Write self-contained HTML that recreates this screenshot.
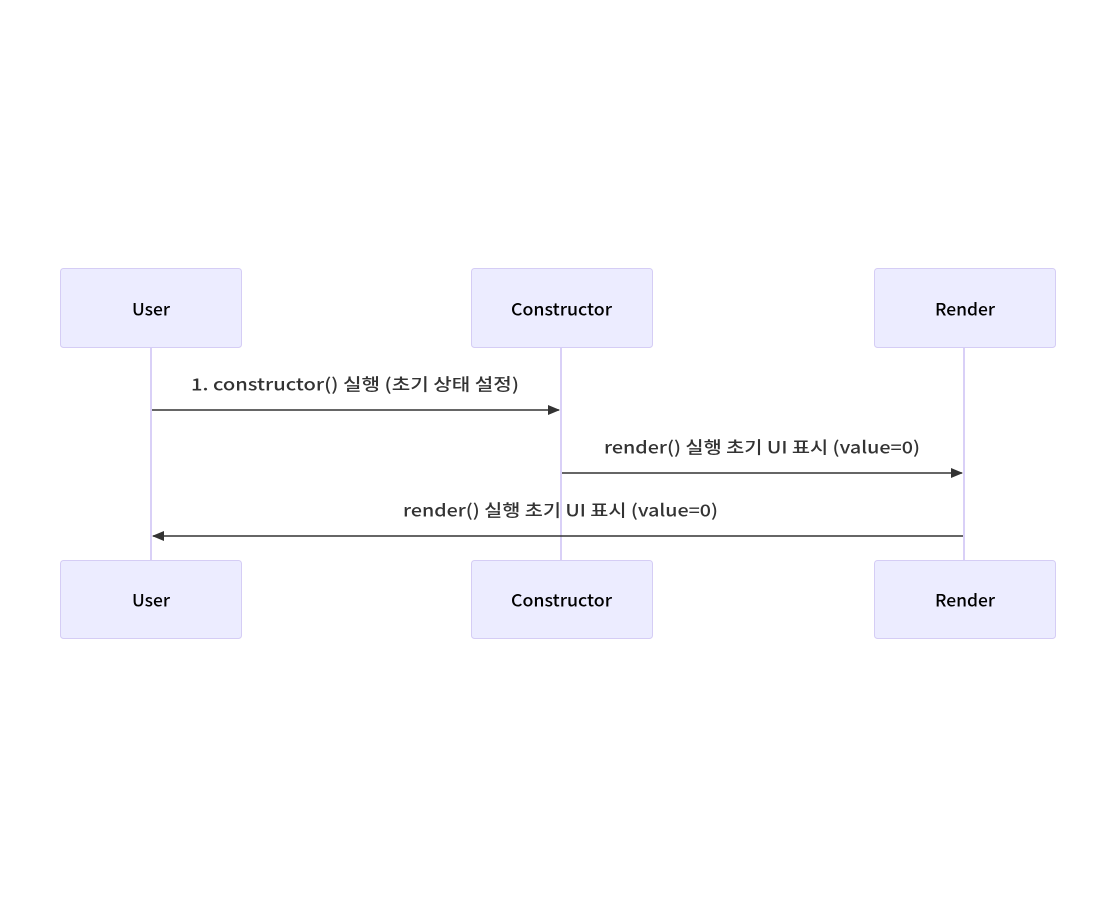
<!DOCTYPE html>
<html><head><meta charset="utf-8"><style>
html,body{margin:0;padding:0;background:#fff;}
svg{display:block;}
text{font-family:"Noto Sans CJK KR","NanumGothic",sans-serif;font-size:17px;font-weight:500;}
</style></head><body>
<svg width="1116" height="909" viewBox="0 0 1116 909" xmlns="http://www.w3.org/2000/svg">
<defs><marker id="ah" markerWidth="12" markerHeight="12" refX="11" refY="6" orient="auto" markerUnits="userSpaceOnUse"><path d="M0,1 L12,6 L0,11 Z" fill="#333"/></marker></defs>
<g stroke="#d9d0f7" stroke-width="2">
<line x1="151" y1="347" x2="151" y2="560"/>
<line x1="561" y1="347" x2="561" y2="560"/>
<line x1="964" y1="347" x2="964" y2="560"/>
</g>
<g fill="#ececff" stroke="#d5cdf5" stroke-width="1">
<rect x="60.5" y="268.5" width="181" height="79" rx="3"/>
<rect x="471.5" y="268.5" width="181" height="79" rx="3"/>
<rect x="874.5" y="268.5" width="181" height="79" rx="3"/>
<rect x="60.5" y="560.5" width="181" height="78" rx="3"/>
<rect x="471.5" y="560.5" width="181" height="78" rx="3"/>
<rect x="874.5" y="560.5" width="181" height="78" rx="3"/>
</g>
<g fill="#000" dominant-baseline="central">
<text x="132" y="308" textLength="38" lengthAdjust="spacingAndGlyphs">User</text>
<text x="511" y="308" textLength="101" lengthAdjust="spacingAndGlyphs">Constructor</text>
<text x="935" y="308" textLength="60" lengthAdjust="spacingAndGlyphs">Render</text>
<text x="132" y="599" textLength="38" lengthAdjust="spacingAndGlyphs">User</text>
<text x="511" y="599" textLength="101" lengthAdjust="spacingAndGlyphs">Constructor</text>
<text x="935" y="599" textLength="60" lengthAdjust="spacingAndGlyphs">Render</text>
</g>
<g stroke="#333" stroke-width="1.5" fill="none">
<line x1="152" y1="410" x2="559" y2="410" marker-end="url(#ah)"/>
<line x1="562" y1="473" x2="962" y2="473" marker-end="url(#ah)"/>
<line x1="963" y1="536" x2="153" y2="536" marker-end="url(#ah)"/>
</g>
<g fill="#333" dominant-baseline="central">
<text x="191" y="383" textLength="328" lengthAdjust="spacingAndGlyphs">1. constructor() 실행 (초기 상태 설정)</text>
<text x="604" y="446" textLength="316" lengthAdjust="spacingAndGlyphs">render() 실행 초기 UI 표시 (value=0)</text>
<text x="403" y="509" textLength="315" lengthAdjust="spacingAndGlyphs">render() 실행 초기 UI 표시 (value=0)</text>
</g>
</svg>
</body></html>
